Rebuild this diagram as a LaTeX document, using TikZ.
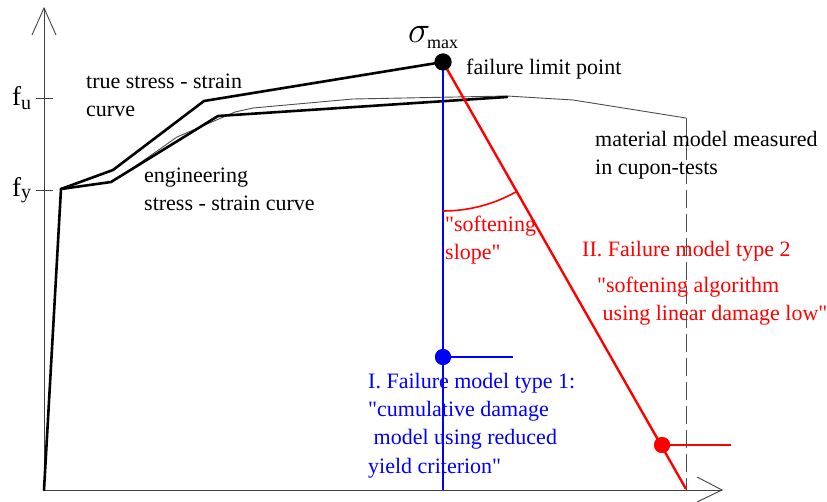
\documentclass[tikz,border=0pt]{standalone}
\usepackage{graphicx}
\usepackage{fontspec}
\setmainfont{Liberation Serif}[Ligatures=TeXOff]
\begin{document}
\begin{tikzpicture}[x=1pt,y=-1pt,
  % multi-line labels are anchored at the baseline of their last line
  lbl/.style={inner sep=0pt, anchor=base west, align=left, font=\fontsize{22}{28.3}\selectfont},
  axis/.style={draw=black!75, line width=0.9pt},
  curvethick/.style={line width=2.6pt, line join=round, line cap=round},
  curvethin/.style={draw=black!70, line width=0.9pt, line join=round},
  dot/.style={circle, fill, inner sep=0pt, minimum size=17pt},
  blueline/.style={draw=blue, line width=2.4pt},
  redline/.style={draw=red, line width=2.4pt},
]
\useasboundingbox (0,0) rectangle (827,502);

% axes with open arrow heads
\coordinate (O) at (44,490);
\coordinate (ytop) at (44,8);
\coordinate (xend) at (722,490);
\draw[axis] (O) -- (ytop);
\draw[axis] (O) -- (xend);
\draw[axis] ([shift={(-12,27)}]ytop) -- (ytop) -- ([shift={(12,27)}]ytop);
\draw[axis] ([shift={(-25,-13)}]xend) -- (xend) -- ([shift={(-25,12)}]xend);

% ticks and stress levels
\coordinate (fu) at (44,98);
\coordinate (fy) at (44,190);
\draw[axis] ([xshift=-8]fu) -- ([xshift=9]fu);
\draw[axis] ([xshift=-8]fy) -- ([xshift=9]fy);
\node[inner sep=0pt, anchor=base west, font=\fontsize{27}{27}\selectfont] (fulbl) at (12,106)
  {f\raisebox{-0.3ex}{\fontsize{20}{20}\selectfont u}};
\node[inner sep=0pt, anchor=base west, font=\fontsize{27}{27}\selectfont] (fylbl) at (12,197)
  {f\raisebox{-0.15ex}{\fontsize{20}{20}\selectfont y}};

% key points
\coordinate (Y) at (61,189);
\node[dot] (smax) at (443,62) {};
\node[dot, fill=blue, minimum size=16pt] (bdot) at (443,357) {};
\node[dot, fill=red, minimum size=16pt] (rdot) at (662,445) {};
\coordinate (bend) at (443,490);
\coordinate (rend) at (686,489);
\coordinate (bstub) at (513,357);
\coordinate (rstub) at (731,445);
\coordinate (mend) at (686,118);
\coordinate (mbot) at (686,490);
\coordinate (arcstart) at (443,211);

% measured material curve (thin)
\draw[curvethin] (Y) -- (111,182) -- (130,170) -- (177,137) -- (235,112) -- (253,108)
  -- (353,99) -- (507,96) -- (573,100) -- (mend);
\draw[draw=black!70, line width=0.9pt, dash pattern=on 18pt off 6pt] (mend) -- (mbot);

% elastic branch and the two stress-strain curves
\draw[curvethick] (O) -- (Y);
\draw[curvethick] (Y) -- (113,170) -- (204,101) -- (smax.center);
\draw[curvethick] (Y) -- (111,182) -- (218,116) -- (507,97);

% failure models
\draw[blueline] (smax.center) -- (bend);
\draw[blueline] (bdot.center) -- (bstub);
\draw[redline] (smax.center) -- (rend);
\draw[redline] (rdot.center) -- (rstub);
\draw[draw=red, line width=1.6pt] (arcstart) arc[start angle=-90, end angle=-60.3, radius=149pt];
\node[dot] at (smax) {};
\node[dot, fill=blue, minimum size=16pt] at (bdot) {};
\node[dot, fill=red, minimum size=16pt] at (rdot) {};

% labels
\node[inner sep=0pt, anchor=base west, font=\fontsize{24}{24}\selectfont] (smaxlbl) at (408,43) {\scalebox{1.5}{$\sigma$}};
\node[inner sep=0pt, anchor=base west, font=\fontsize{18}{18}\selectfont] (maxlbl) at (427,49) {max};
\node[lbl] (failpt) at (466,75) {failure limit point};
\node[lbl] (truelbl) at (86,117) {true stress - strain\\curve};
\node[lbl] (englbl) at (144,211) {engineering\\stress - strain curve};
\node[lbl] (matlbl) at (595,175) {material model measured\\in cupon-tests};
\node[lbl, text=red] (slopelbl) at (445,260) {"softening\\slope"};
\node[lbl, text=red] (type2) at (582,257) {II. Failure model type 2};
\node[lbl, text=red] (type2b) at (597,321) {"softening algorithm\\\ using linear damage low"};
\node[lbl, text=blue] (type1) at (368,473) {I. Failure model type 1:\\"cumulative damage\\\ model using reduced\\yield criterion"};
\end{tikzpicture}
\end{document}
